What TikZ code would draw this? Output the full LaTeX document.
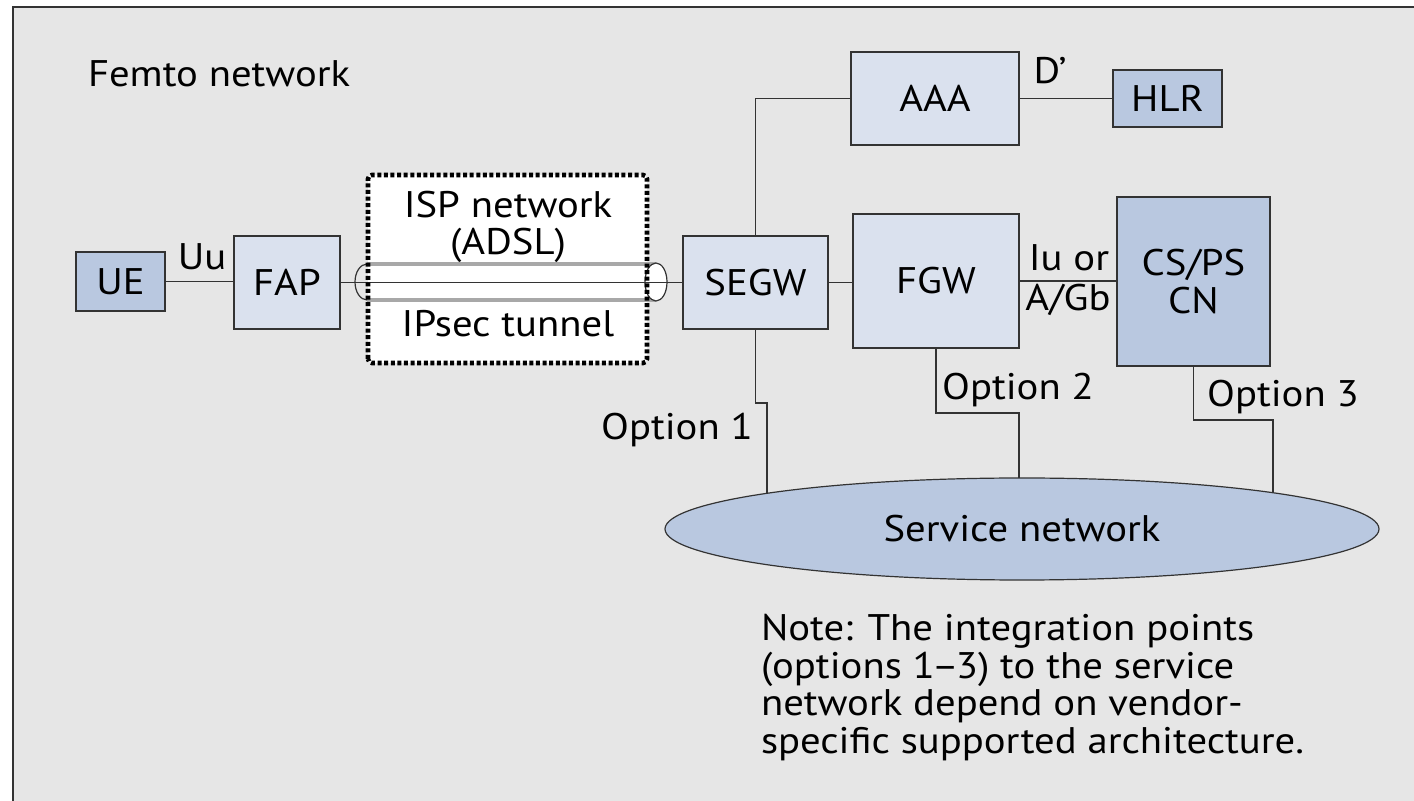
\documentclass[tikz,border=0pt]{standalone}
\usepackage{fontspec}
\setmainfont{PT Sans}[FakeStretch=1.1]
\usetikzlibrary{shapes.geometric}
\definecolor{bg}{HTML}{E6E6E6}
\definecolor{lightbox}{HTML}{DAE1EE}
\definecolor{darkbox}{HTML}{B9C8E0}
\definecolor{ln}{HTML}{333333}
\definecolor{pipegray}{HTML}{A8A8A8}
\begin{document}
\begin{tikzpicture}[x=0.5pt,y=-0.5pt,
  txt/.style={font=\fontsize{18.5}{18.9}\selectfont, text=black, inner sep=0pt, outer sep=0pt},
  lbl/.style={txt, anchor=base},
  box/.style={txt, draw=ln, line width=1pt, fill=lightbox},
  dbox/.style={box, fill=darkbox},
  conn/.style={draw=ln, line width=0.75pt},
  pipeline/.style={draw=pipegray, line width=1.7pt},
  ispborder/.style={draw=black, line width=2.3pt, dash pattern=on 2pt off 1.3pt, rounded corners=2pt}
]
\useasboundingbox (0,0) rectangle (1414,801);
% frame
\fill[bg] (13,7) rectangle (1414,801);
\draw[ln, line width=0.8pt] (13,801) -- (13,7) -- (1414,7);

\node[txt, anchor=base west] (femto) at (88,87) {Femto network};

% ISP area background
\node[fill=white, draw=none, inner sep=0pt, outer sep=0pt, minimum width=139.5pt, minimum height=94pt, rounded corners=2pt] (isp) at (507.5,269) {};

% nodes
\node[dbox, minimum width=44.5pt, minimum height=29.5pt] (UE) at (120.5,281.5) {UE};
\node[box, minimum width=53pt, minimum height=46.5pt] (FAP) at (287,282.5) {FAP};
\node[box, minimum width=72.5pt, minimum height=46.5pt] (SEGW) at (755.5,282.5) {SEGW};
\node[box, minimum width=83pt, minimum height=67pt] (FGW) at (936,281) {FGW};
\node[dbox, minimum width=76.5pt, minimum height=84.5pt, align=center] (CN) at (1193.5,281.5) {CS/PS\\CN};
\node[box, minimum width=84pt, minimum height=46.5pt] (AAA) at (935,98.5) {AAA};
\node[dbox, minimum width=54.5pt, minimum height=28.5pt] (HLR) at (1167.5,98.5) {HLR};
\node[txt, shape=ellipse, draw=ln, line width=0.6pt, fill=darkbox, minimum width=357pt, minimum height=51pt] (SN) at (1022,529) {Service network};

% tunnel pipe
\draw[pipeline] (367,264) -- (656,264);
\draw[pipeline] (367,300) -- (656,300);
\draw[ln, line width=0.6pt] (367,264) arc[start angle=270, end angle=90, x radius=12, y radius=18];
\draw[ln, line width=0.6pt, fill=white] (656,282) ellipse[x radius=11, y radius=19];
\draw[conn] (FAP.east) -- (FAP.east -| SEGW.west);
\draw[ispborder] (isp.south west) rectangle (isp.north east);

\node[lbl] (isptxt) at (508,218) {ISP network};
\node[lbl] (adsl) at (508,255) {(ADSL)};
\node[lbl] (ipsec) at (508,337) {IPsec tunnel};

% connectors
\draw[conn] (UE.east) -- (UE.east -| FAP.west);
\node[lbl] (uu) at (202,270) {Uu};
\draw[conn] (SEGW.north) |- (AAA.west);
\draw[conn] (AAA.east) -- (HLR.west);
\node[lbl] (dp) at (1050,84) {D’};
\draw[conn] (SEGW.east) -- (SEGW.east -| FGW.west);
\draw[conn] (FGW.east) -- (FGW.east -| CN.west);
\node[lbl] (iu) at (1069,271) {Iu or};
\node[lbl] (agb) at (1068,311) {A/Gb};

\draw[conn] (SEGW.south) |- (767,403) -- (767,403 |- SN.172);
\draw[conn] (FGW.south) |- (1019,413) -- (1019,413 |- SN.north);
\draw[conn] (CN.south) |- (1273,420) -- (1273,420 |- SN.8);

\node[lbl] (opt1) at (677,440) {Option 1};
\node[lbl] (opt2) at (1018,400) {Option 2};
\node[lbl] (opt3) at (1283,407) {Option 3};

\node[txt, anchor=north west, align=left] (note) at (761,614) {Note: The integration points\\(options 1\kern-1.5pt–\kern-1.5pt3) to the service\\network depend on vendor-\\specific supported architecture.};
\end{tikzpicture}
\end{document}
